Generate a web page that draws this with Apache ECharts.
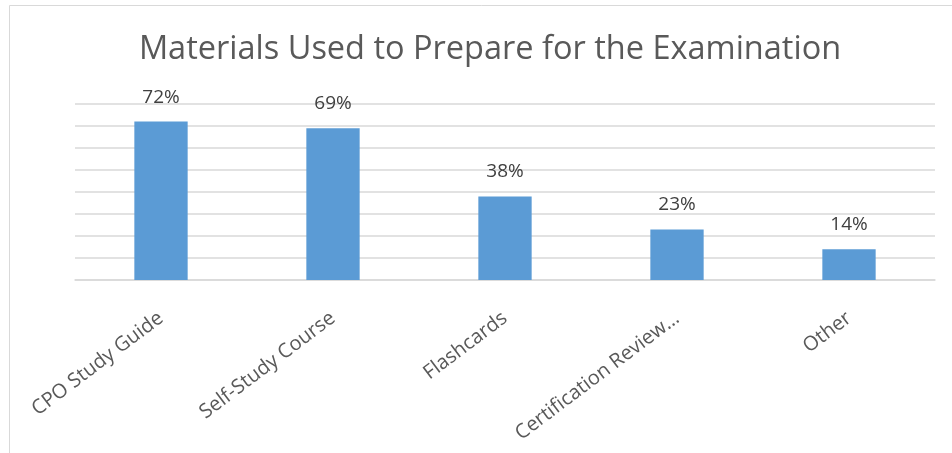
<!DOCTYPE html>
<html>
<head>
<meta charset="utf-8">
<script src="https://cdn.jsdelivr.net/npm/echarts@6/dist/echarts.min.js"></script>
<style>
html,body{margin:0;padding:0;background:#fff;}
#chart{width:952px;height:453px;}
</style>
</head>
<body>
<div id="chart"></div>
<script>
const titleText = 'Materials Used to Prepare for the Examination';
const categories = ['CPO Study Guide', 'Self-Study Course', 'Flashcards', 'Certification Review\u2026', 'Other'];
const values = [72, 69, 38, 23, 14];
const yTicks = [0, 10, 20, 30, 40, 50, 60, 70, 80];

const chart = echarts.init(document.getElementById('chart'), null, {renderer: 'canvas'});
const FONT = '"Open Sans", sans-serif';
chart.setOption({
  animation: false,
  backgroundColor: '#ffffff',
  graphic: [{
    type: 'rect',
    shape: {x: 9.5, y: 5.5, width: 1200, height: 1200},
    style: {fill: 'none', stroke: '#d9d9d9', lineWidth: 1},
    silent: true
  }],
  title: {
    text: titleText,
    left: 485,
    textAlign: 'center',
    top: 28,
    textStyle: {fontFamily: FONT, fontSize: 32.5, fontWeight: 'normal', color: '#595959'}
  },
  grid: {left: 75, right: 17, top: 104, bottom: 173, containLabel: false, outerBoundsMode: 'none'},
  xAxis: {
    type: 'category',
    data: categories,
    axisLine: {lineStyle: {color: '#d9d9d9', width: 1.5}},
    axisTick: {show: false},
    axisLabel: {
      rotate: 37,
      interval: 0,
      margin: 36,
      fontFamily: FONT,
      fontSize: 20,
      color: '#595959'
    }
  },
  yAxis: {
    type: 'value',
    min: yTicks[0],
    max: yTicks[yTicks.length - 1],
    interval: yTicks[1] - yTicks[0],
    axisLabel: {show: false},
    axisLine: {show: false},
    axisTick: {show: false},
    splitLine: {lineStyle: {color: '#d9d9d9', width: 1.5}}
  },
  series: [{
    type: 'bar',
    data: values,
    barWidth: '31%',
    itemStyle: {color: '#5b9bd5'},
    label: {
      show: true,
      position: 'top',
      distance: 15,
      formatter: p => p.value + '%',
      fontFamily: FONT,
      fontSize: 19,
      color: '#404040'
    }
  }]
});
</script>
</body>
</html>
